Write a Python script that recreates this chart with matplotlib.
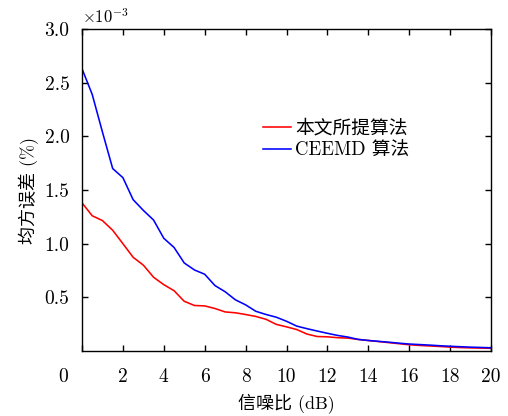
import matplotlib
matplotlib.use("Agg")
import matplotlib.pyplot as plt
from matplotlib.transforms import ScaledTranslation

plt.rcParams['font.family'] = ['cmr10', 'Noto Sans CJK SC', 'DejaVu Sans']
plt.rcParams['mathtext.fontset'] = 'cm'
plt.rcParams['axes.formatter.use_mathtext'] = True

snr = [i * 0.5 for i in range(41)]
ours = [1.38, 1.26, 1.215, 1.125, 1.0, 0.873, 0.80, 0.687, 0.618, 0.562,
        0.463, 0.424, 0.42, 0.396, 0.364, 0.356, 0.34, 0.322, 0.295, 0.248,
        0.225, 0.2, 0.158, 0.135, 0.132, 0.124, 0.12, 0.108, 0.098, 0.088,
        0.078, 0.068, 0.058, 0.052, 0.047, 0.042, 0.036, 0.032, 0.029, 0.027,
        0.025]
ceemd = [2.63, 2.39, 2.04, 1.70, 1.615, 1.41, 1.31, 1.22, 1.05, 0.965,
         0.82, 0.755, 0.715, 0.61, 0.552, 0.477, 0.43, 0.37, 0.34, 0.315,
         0.277, 0.232, 0.208, 0.186, 0.165, 0.145, 0.13, 0.108, 0.098, 0.09,
         0.082, 0.073, 0.065, 0.06, 0.055, 0.049, 0.044, 0.04, 0.036, 0.033,
         0.03]
xticks = [0, 2, 4, 6, 8, 10, 12, 14, 16, 18, 20]
yticks = [0.5, 1.0, 1.5, 2.0, 2.5, 3.0]
labels = ['本文所提算法', 'CEEMD 算法']

fig = plt.figure(figsize=(5.08, 4.16), dpi=100)
ax = fig.add_axes([82/508, 1-351/416, (491-82)/508, (351-29)/416])

ax.plot(snr, ours, color='#ff0000', lw=1.15, label=labels[0])
ax.plot(snr, ceemd, color='#0000ff', lw=1.15, label=labels[1])

ax.set_xlim(0, 20)
ax.set_ylim(0, 3.0)
ax.set_xticks(xticks)
ax.set_xticklabels([str(t) for t in xticks])
ax.set_yticks(yticks)
ax.set_yticklabels(['%.1f' % t for t in yticks])
ax.tick_params(direction='in', top=True, right=True, length=4, width=1.0,
               labelsize=14)
ax.tick_params(axis='x', pad=12)
ax.tick_params(axis='y', pad=9)
for s in ax.spines.values():
    s.set_linewidth(1.0)

# shift "0" label left
lab0 = ax.get_xticklabels()[0]
lab0.set_transform(lab0.get_transform() + ScaledTranslation(-0.19, 0, fig.dpi_scale_trans))

ax.text(0.0, 1.008, r'$\times10^{-3}$', transform=ax.transAxes, ha='left',
        va='bottom', fontsize=12)

ax.set_xlabel('信噪比 (dB)', fontsize=13, labelpad=6)
ax.set_ylabel('均方误差 (%)', fontsize=13, labelpad=4)

ax.legend(loc='center left', bbox_to_anchor=((263-82)/409, (351-139.5)/322),
          frameon=False, fontsize=13.5, handlelength=1.5, handletextpad=0.2,
          labelspacing=0.25, borderpad=0, borderaxespad=0)

fig.savefig('out.png', dpi=100)
